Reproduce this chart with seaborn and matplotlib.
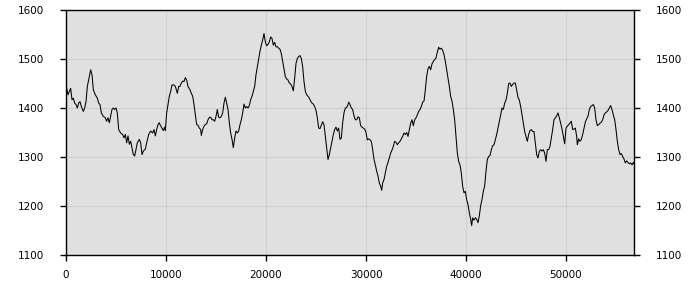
import matplotlib
matplotlib.use("Agg")
import matplotlib.pyplot as plt
import seaborn as sns
import pandas as pd

distance = [
    0, 67, 200, 333, 467, 600, 733, 867, 1000, 1133, 1267, 1400, 1533, 1733, 1867, 2000,
    2133, 2300, 2467, 2600, 2733, 2933, 3133, 3267, 3400, 3533, 3733, 3933, 4067, 4200,
    4333, 4467, 4600, 4733, 4867, 5000, 5133, 5267, 5467, 5667, 5800, 5933, 6067, 6200,
    6333, 6467, 6600, 6733, 6867, 7000, 7133, 7333, 7467, 7600, 7733, 7933, 8067, 8267,
    8467, 8667, 8800, 8933, 9067, 9200, 9333,
    9400, 9600, 9733, 9867, 9933, 10067, 10200, 10333, 10467, 10600, 10800, 10933, 11133,
    11267, 11400, 11533, 11667, 11800, 11933, 12067, 12200, 12400, 12533, 12667, 12800,
    12933, 13067, 13200, 13333, 13467, 13533, 13667, 13800, 13933, 14067, 14200, 14333,
    14467, 14600, 14733, 14867, 15000, 15133, 15267, 15400, 15533, 15667, 15800, 15933,
    16067, 16200, 16333, 16467, 16600, 16733, 16867, 17000, 17133, 17267, 17400, 17533,
    17667, 17800, 17933, 18067, 18200, 18333, 18467, 18600, 18733,
    18867, 19000, 19133, 19267, 19400, 19533, 19667, 19800, 19933, 20067, 20200, 20333,
    20467, 20600, 20733, 20867, 21000, 21133, 21267, 21400, 21533, 21667, 21800, 21933,
    22067, 22200, 22333, 22467, 22600, 22733, 22867, 23000, 23133, 23267, 23400, 23533,
    23667, 23800, 23933, 24067, 24200, 24333, 24467, 24600, 24733, 24867, 25000, 25133,
    25267, 25400, 25533, 25667, 25800, 25933, 26067, 26200, 26333, 26467, 26600, 26733,
    26867, 27000, 27133, 27267, 27400, 27533, 27667, 27800, 27933, 28067, 28200,
    28267, 28400, 28533, 28667, 28800, 28933, 29067, 29200, 29333, 29467, 29600, 29733,
    29867, 30000, 30133, 30267, 30400, 30533, 30667, 30800, 30933, 31067, 31200, 31333,
    31467, 31567, 31667, 31800, 31933, 32067, 32200, 32333, 32467, 32600, 32733, 32867,
    33000, 33133, 33267, 33400, 33533, 33667, 33800, 33933, 34067, 34200, 34333, 34467,
    34600, 34733, 34867, 35000, 35133, 35267, 35400, 35533, 35667, 35800, 35933, 36067,
    36200, 36333, 36467, 36600, 36733, 36867, 37000, 37133, 37267, 37400, 37533,
    37667, 37800, 37933, 38067, 38200, 38333, 38467, 38600, 38733, 38867, 39000, 39133,
    39267, 39400, 39533, 39667, 39800, 39933, 40067, 40200, 40333, 40467, 40567, 40667,
    40800, 40933, 41067, 41200, 41333, 41467, 41600, 41733, 41867, 42000, 42133, 42267,
    42400, 42533, 42667, 42800, 42933, 43067, 43200, 43333, 43467, 43600, 43733, 43867,
    44000, 44133, 44267, 44400, 44533, 44667, 44800, 44933, 45067, 45200, 45333, 45467,
    45600, 45733, 45867, 46000, 46133, 46267, 46400, 46533, 46667,
    46800, 46933, 47067, 47200, 47333, 47467, 47600, 47733, 47867, 48000, 48133, 48267,
    48400, 48533, 48667, 48800, 48933, 49067, 49200, 49333, 49467, 49600, 49733, 49867,
    50000, 50133, 50267, 50400, 50533, 50667, 50800, 50933, 51067, 51133, 51267, 51400,
    51533, 51667, 51800, 51933, 52067, 52200, 52333, 52467, 52600, 52733, 52867, 53000,
    53133, 53267, 53400, 53533, 53667, 53800, 53933, 54067, 54200, 54333, 54467, 54600,
    54733, 54867, 55000, 55133, 55267, 55400, 55533, 55667, 55800, 55933, 56067, 56200,
    56333, 56467, 56600, 56733, 56800,
]

elevation = [
    1440, 1440, 1427, 1434, 1440, 1417, 1420, 1410, 1407, 1400, 1410, 1413, 1403, 1393, 1400, 1413,
    1444, 1461, 1478, 1468, 1437, 1427, 1420, 1410, 1407, 1390, 1383, 1380, 1373, 1380,
    1370, 1383, 1397, 1400, 1397, 1400, 1390, 1356, 1349, 1346, 1339, 1346, 1329, 1343,
    1326, 1332, 1319, 1305, 1302, 1316, 1329, 1336, 1329, 1305, 1312, 1316, 1329, 1346,
    1353, 1349, 1356, 1343, 1356, 1366, 1370,
    1366, 1359, 1354, 1361, 1354, 1390, 1407, 1424, 1434, 1447, 1447, 1444, 1430,
    1444, 1444, 1451, 1455, 1454, 1462, 1457, 1444, 1437, 1430, 1424, 1407,
    1386, 1366, 1365, 1359, 1356, 1344, 1356, 1363, 1366, 1368, 1376, 1381,
    1381, 1376, 1376, 1373, 1383, 1397, 1381, 1380, 1383, 1390, 1410, 1422,
    1410, 1397, 1370, 1349, 1336, 1319, 1339, 1353, 1349, 1353, 1366, 1376,
    1390, 1408, 1400, 1403, 1400, 1405, 1417, 1424, 1434,
    1444, 1468, 1484, 1501, 1516, 1528, 1539, 1552, 1535, 1527, 1530, 1535,
    1545, 1542, 1528, 1534, 1525, 1525, 1522, 1520, 1511, 1495, 1478, 1464,
    1459, 1457, 1451, 1449, 1444, 1435, 1461, 1491, 1501, 1505, 1507, 1501,
    1484, 1454, 1434, 1427, 1424, 1420, 1414, 1410, 1408, 1403, 1395, 1380,
    1359, 1358, 1365, 1372, 1366, 1343, 1319, 1295, 1305, 1319, 1332, 1346,
    1356, 1361, 1353, 1359, 1336, 1339, 1370, 1390, 1400, 1401, 1407,
    1412, 1407, 1400, 1397, 1384, 1376, 1376, 1382, 1380, 1364, 1361, 1359,
    1357, 1350, 1335, 1337, 1335, 1332, 1315, 1295, 1284, 1271, 1261, 1247,
    1240, 1232, 1247, 1254, 1267, 1281, 1289, 1298, 1308, 1314, 1322, 1332,
    1330, 1325, 1329, 1332, 1337, 1342, 1349, 1346, 1350, 1342, 1356, 1369,
    1376, 1364, 1376, 1380, 1386, 1393, 1397, 1403, 1412, 1414, 1437, 1465,
    1480, 1485, 1478, 1490, 1495, 1499, 1502, 1514, 1524, 1520, 1522,
    1518, 1509, 1495, 1478, 1461, 1444, 1424, 1414, 1397, 1376, 1342, 1308,
    1291, 1284, 1267, 1240, 1227, 1230, 1213, 1203, 1186, 1173, 1160, 1176,
    1171, 1176, 1173, 1166, 1180, 1201, 1213, 1230, 1241, 1271, 1295, 1301,
    1303, 1315, 1323, 1325, 1335, 1346, 1359, 1373, 1386, 1400, 1397, 1410,
    1416, 1430, 1450, 1451, 1444, 1448, 1451, 1451, 1437, 1422, 1416, 1403,
    1386, 1369, 1352, 1342, 1332, 1346, 1354, 1356, 1352,
    1352, 1329, 1305, 1298, 1312, 1315, 1312, 1315, 1308, 1291, 1315, 1315,
    1322, 1339, 1356, 1376, 1380, 1384, 1390, 1380, 1369, 1357, 1342, 1327,
    1359, 1363, 1366, 1369, 1373, 1356, 1357, 1359, 1342, 1325, 1337, 1332,
    1336, 1346, 1359, 1371, 1378, 1383, 1397, 1403, 1405, 1407, 1400, 1376,
    1364, 1366, 1369, 1371, 1376, 1386, 1390, 1392, 1395, 1400, 1405, 1397,
    1386, 1376, 1356, 1332, 1315, 1305, 1307, 1301, 1296, 1288, 1292, 1289,
    1286, 1288, 1284, 1289, 1286,
]

x_ticks = [0, 10000, 20000, 30000, 40000, 50000]
y_ticks = [1100, 1200, 1300, 1400, 1500, 1600]

df = pd.DataFrame({"distance": distance, "elevation": elevation})

sns.set_style("ticks")
plt.rcParams["font.family"] = ["DejaVu Sans"]

fig = plt.figure(figsize=(7, 3), dpi=100)
ax = fig.add_axes([66 / 700, 1 - 255 / 300, 568 / 700, 245 / 300])
ax.set_facecolor("#e0e0e0")

sns.lineplot(data=df, x="distance", y="elevation", ax=ax, color="black",
             linewidth=0.75, estimator=None, sort=False)

ax.set_xlim(0, 56800)
ax.set_ylim(1100, 1600)
ax.set_xticks(x_ticks)
ax.set_yticks(y_ticks)
ax.set_xticklabels([str(v) for v in x_ticks])
ax.set_yticklabels([str(v) for v in y_ticks])
ax.set_xlabel("")
ax.set_ylabel("")

ax.grid(True, color="#cfcfcf", linewidth=0.8)
ax.set_axisbelow(True)
for s in ax.spines.values():
    s.set_visible(True)
    s.set_color("black")
    s.set_linewidth(1.0)

ax.tick_params(axis="x", direction="out", length=4, width=1, pad=7,
               labelsize=7.5, colors="black")
ax.tick_params(axis="y", direction="out", length=4, width=1, pad=12,
               labelsize=7.5, colors="black", left=True, right=True,
               labelleft=True, labelright=True)

fig.savefig("out.png", dpi=100, facecolor="white")
